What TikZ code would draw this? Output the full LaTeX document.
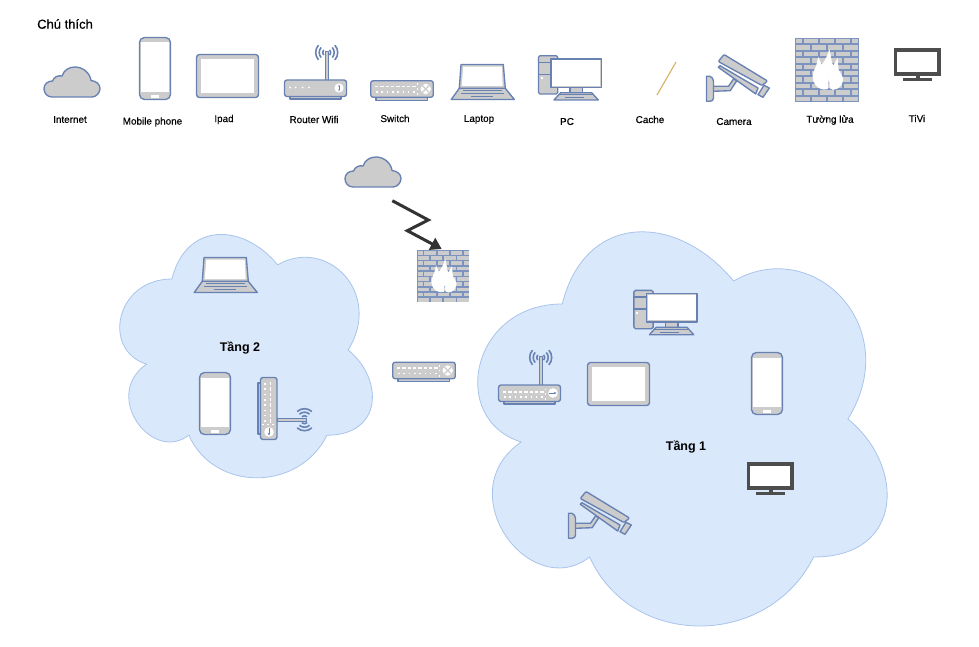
\documentclass[tikz,border=0pt]{standalone}
\usepackage{fontspec}
\setmainfont{Liberation Sans}
\newfontfamily\labelfont[FakeBold=.4]{Liberation Sans}
\usetikzlibrary{arrows.meta}
\definecolor{iconblue}{HTML}{6881B3}
\definecolor{wallblue}{HTML}{7C93C0}
\definecolor{icongray}{HTML}{CCCCCC}
\definecolor{tvdark}{HTML}{4D4D4D}
\definecolor{areafill}{HTML}{DAE8FC}
\definecolor{arealine}{HTML}{A9C4EB}
\definecolor{cacheline}{HTML}{D9B66F}
\newcommand{\portdots}{
\foreach \dotx in {5,10.3,15.6,20.9,26.2,31.5,36.8,42.1} {
\fill [white] (\dotx,-5.9) rectangle +(3.4,-1.6);
\fill [white] (\dotx+1,-11) rectangle +(1.6,-1.6);
}
\foreach \doty in {3.5,8.3,13.4} \fill [white] (46.8,-\doty) rectangle +(1.6,-1.6);
}
\newcommand{\routermast}{
\draw [icon, line width=.8pt] (41,-7) rectangle (44.4,-36);
\foreach \wave in {4,7.5,11} {
\draw [iconblue, line width=1.6pt] (42.7,-8.5) ++(138:\wave) arc [start angle=138, end angle=222, radius=\wave];
\draw [iconblue, line width=1.6pt] (42.7,-8.5) ++(42:\wave) arc [start angle=42, end angle=-42, radius=\wave];
}
}
\tikzset{
icon/.style={draw=iconblue, fill=icongray, line width=1.35pt, line join=round},
screen/.style={fill=white},
label/.style={inner sep=0pt, font=\labelfont\fontsize{9.9}{11}\selectfont},
areatitle/.style={inner sep=0pt, font=\fontsize{12.5}{14}\selectfont\bfseries},
areacloud/.pic={
\draw [draw=arealine, fill=areafill, line width=.8pt] (25,-25) .. controls (5,-25) and (0,-50) .. (16,-55)
.. controls (0,-66) and (18,-90) .. (31,-80)
.. controls (40,-100) and (70,-100) .. (80,-80)
.. controls (100,-80) and (100,-60) .. (87.5,-50)
.. controls (100,-30) and (80,-10) .. (62.5,-20)
.. controls (50,-5) and (30,-5) .. (25,-25) -- cycle;
},
cloudicon/.pic={
\draw [icon] (8,-30) .. controls (3,-30) and (0,-26) .. (0,-21.5) .. controls (0,-17) and (4,-14) .. (8.5,-14)
.. controls (10,-10) and (14,-8) .. (18,-9) .. controls (20,-3) and (25,0) .. (31,0)
.. controls (39,0) and (46,-6) .. (47,-13.5) .. controls (52,-14) and (56,-17) .. (56,-21.5)
.. controls (56,-26) and (52,-30) .. (48,-30) -- cycle;
},
phoneicon/.pic={
\draw [icon, rounded corners=5pt] (.5,-.5) rectangle (31.5,-62.5);
\fill [screen] (1.6,-5.5) rectangle (30.4,-55.3);
\fill [screen] (12.3,-58.3) rectangle (20,-60.7);
},
ipadicon/.pic={
\draw [icon, rounded corners=3pt] (.5,-.5) rectangle (62.5,-43.5);
\fill [screen] (5,-5) rectangle (58,-39);
},
routericon/.pic={
\routermast
\draw [icon] (6,-52) rectangle (57,-55);
\draw [icon, rounded corners=2.5pt] (.5,-36) rectangle (62.5,-52.5);
\foreach \dotx in {6,11.5,18.5,25} \fill [white] (\dotx,-43.5) circle (1);
\fill [white] (55,-44) circle (4.6);
\draw [iconblue, line width=1pt, {Stealth[length=2pt]}-{Stealth[length=2pt]}] (55,-40.6) -- (55,-47.4);
},
hubicon/.pic={
\routermast
\draw [icon] (6,-52) rectangle (57,-55);
\draw [icon, rounded corners=2.5pt] (.5,-36) rectangle (62.5,-52.5);
\begin{scope}[yshift=-36pt]
\portdots
\end{scope}
\fill [white] (55,-44) circle (4.8);
\draw [iconblue, line width=1pt, -{Stealth[length=3pt]}] (51.3,-44) -- (58.7,-44);
},
switchicon/.pic={
\draw [icon] (6,-17) rectangle (57.3,-20.3);
\draw [icon, rounded corners=2.5pt] (.7,-.7) rectangle (63.3,-17.3);
\portdots
\fill [white] (55.7,-9) circle (5.2);
\draw [icongray, line width=1.3pt] (52,-5.3) -- (59.4,-12.7) (52,-12.7) -- (59.4,-5.3);
},
laptopicon/.pic={
\draw [icon] (8.3,-24.3) -- (54.3,-24.3) -- (63.3,-35.5) -- (.2,-35.5) -- cycle;
\draw [icon] (10,-.5) -- (52.3,-.5) -- (54.3,-24.3) -- (8.3,-24.3) -- cycle;
\fill [screen] (12.3,-2.7) -- (50.7,-2.7) -- (51.7,-22) -- (10.7,-22) -- cycle;
\draw [iconblue, line width=1.1pt] (11.7,-26.8) -- (51,-26.8) (10,-29.6) -- (53,-29.6) (20,-32.6) -- (41.7,-32.6);
},
pcicon/.pic={
\draw [icon, rounded corners=1.5pt] (.5,-.7) rectangle (19.7,-39);
\draw [iconblue, line width=1.2pt] (.5,-7.3) -- (13,-7.3) (.5,-19.3) -- (13,-19.3);
\fill [white] (2.8,-21.8) rectangle +(2,-2);
\draw [icon] (32,-32.3) rectangle (44.7,-37.7);
\draw [icon] (13,-4) rectangle (63.7,-32.3);
\fill [screen] (14.3,-5.2) rectangle (62.4,-30.6);
\draw [icon] (22.7,-37.7) -- (53.7,-37.7) -- (60.3,-45) -- (16,-45) -- cycle;
\draw [iconblue, line width=1pt] (22,-40) -- (55,-40) (27,-42.8) -- (46,-42.8);
},
cameraicon/.pic={
\draw [icon, rounded corners=1pt] (12.3,-7.5) -- (18,-.5) -- (61.5,-27) -- (56,-31.5) -- cycle;
\draw [icon] (12.3,-13.3) -- (14,-11.7) -- (52,-34) -- (49.7,-40) -- cycle;
\draw [icon] (58,-31.3) -- (63.3,-34) -- (57,-43.3) -- (52,-40.7) -- cycle;
\draw [icon] (7,-32.3) -- (22.5,-32.3) -- (27.5,-25) -- (30.8,-26.7) -- (24.2,-36.7) -- (7,-37.3) -- cycle;
\draw [icon] (.5,-22.3) -- (4,-22.3) .. controls (6,-23) and (7.5,-25) .. (7.5,-27.3) -- (7.5,-44) .. controls (7.5,-46) and (6,-47.3) .. (4,-47.3) -- (.5,-47.3) -- cycle;
},
wallicon/.pic={
\fill [wallblue] (0,0) rectangle (64,-64);
\foreach \row in {0,2,4,6,8} {
\fill [icongray] (1,-\row*6.4-1.1) rectangle +(6.2,-4.4);
\fill [icongray] (57,-\row*6.4-1.1) rectangle +(6,-4.4);
\foreach \col in {8,24,40} \fill [icongray] (\col+1,-\row*6.4-1.1) rectangle +(14,-4.4);
\foreach \col in {0,16,32,48} \fill [icongray] (\col+1,-\row*6.4-7.5) rectangle +(14,-4.4);
}
\draw [draw=white, fill=white, line width=.6pt] (33.3,-38.3) .. controls (33,-43) and (33,-47) .. (32.7,-50.5)
.. controls (30,-52) and (26,-51) .. (23,-49)
.. controls (19,-46) and (17,-40) .. (18.3,-36)
.. controls (19,-32) and (21,-30) .. (21.5,-28) -- (23.3,-20) -- (26.7,-27)
.. controls (31,-22) and (33,-17) .. (34.3,-12.3)
.. controls (35.5,-17) and (36,-22) .. (36.7,-25) -- (38.3,-28.3) -- (42.3,-21) -- (43.3,-32)
.. controls (46,-36) and (48,-40) .. (47.7,-42)
.. controls (47,-47) and (44,-51) .. (38,-51.5) -- (35,-50) .. controls (35,-46) and (34.5,-42) .. (33.3,-38.3) -- cycle;
},
tvicon/.pic={
\fill [tvdark] (0,-.3) rectangle (46.7,-27.7);
\fill [screen] (3.3,-3.7) rectangle (43.3,-24.3);
\fill [tvdark] (21.5,-27.7) rectangle (26,-30.5);
\fill [tvdark] (9.3,-30.3) rectangle (37.7,-32.7);
},
}
\begin{document}
\begin{tikzpicture}[x=1pt, y=1pt]
\useasboundingbox (0,0) rectangle (979,-647);
\node [inner sep=0pt, anchor=west, font=\labelfont\fontsize{13}{15}\selectfont] (legendtitle) at (37,-24) {Chú thích};
\pic (leginternet) at (44,-67) {cloudicon};
\pic (legphone) at (139,-37) {phoneicon};
\pic (legipad) at (196,-54) {ipadicon};
\pic (legrouter) at (284,-44) {routericon};
\pic (legswitch) at (370,-80) {switchicon};
\pic (leglaptop) at (451,-64) {laptopicon};
\pic (legpc) at (538,-55) {pcicon};
\coordinate (cachea) at (657,-95);
\coordinate (cacheb) at (676,-62);
\draw [cacheline, line width=1.2pt] (cachea) -- (cacheb);
\pic (legcamera) at (706,-54) {cameraicon};
\pic (legwall) at (795,-38) {wallicon};
\pic (legtv) at (894,-48) {tvicon};
\node [label] (lblinternet) at (70,-119.5) {Internet};
\node [label] (lblphone) at (152.5,-122) {Mobile phone};
\node [label] (lblipad) at (224,-119.5) {Ipad};
\node [label] (lblrouter) at (314,-119.5) {Router Wifi};
\node [label] (lblswitch) at (395,-118.5) {Switch};
\node [label] (lbllaptop) at (479,-119.5) {Laptop};
\node [label] (lblpc) at (567,-121.5) {PC};
\node [label] (lblcache) at (650,-119.5) {Cache};
\node [label] (lblcamera) at (734,-121.5) {Camera};
\node [label] (lblwall) at (830,-120) {Tường lửa};
\node [label] (lbltv) at (917,-118.5) {TiVi};
\pic (floortwo) at (101.4,-208) [xscale=2.82, yscale=2.84] {areacloud};
\pic (floorone) at (448,-189) [xscale=4.57, yscale=4.6] {areacloud};
\node [areatitle] (lbltwo) at (240,-348.5) {Tầng 2};
\node [areatitle] (lblone) at (686,-447.5) {Tầng 1};
\pic (internet) at (345,-157) {cloudicon};
\pic (wall) at (417,-250) [scale=.82] {wallicon};
\pic (switch) at (392,-361.5) {switchicon};
\coordinate (linka) at (392.3,-200.7);
\coordinate (linkb) at (428.3,-220);
\coordinate (linkc) at (407.3,-230.7);
\coordinate (linkd) at (441.7,-249);
\draw [-{Triangle[length=11pt, width=13pt]}, color=black!80, line width=3pt, line join=miter] (linka) -- (linkb) -- (linkc) -- (linkd);
\pic (laptop) at (194,-257) {laptopicon};
\pic (phonetwo) at (199,-372) {phoneicon};
\pic (hubtwo) at (313,-377) [rotate=-90] {hubicon};
\pic (pc) at (633.4,-289.7) {pcicon};
\pic (hubone) at (498,-349) {hubicon};
\pic (ipad) at (587,-362) {ipadicon};
\pic (phoneone) at (751,-352) {phoneicon};
\pic (tv) at (747,-462) {tvicon};
\pic (camera) at (568,-491) {cameraicon};
\end{tikzpicture}
\end{document}
